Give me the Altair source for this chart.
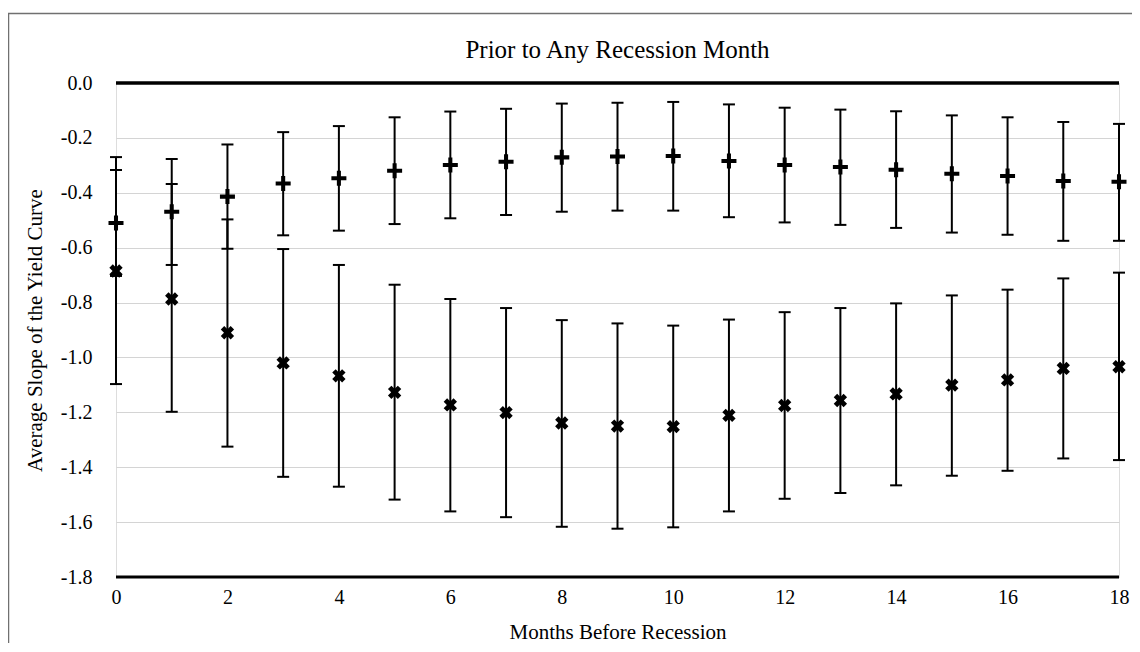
import altair as alt
import pandas as pd

months = list(range(19))

plus_mean = [-0.510, -0.469, -0.414, -0.366, -0.347, -0.320, -0.299, -0.287, -0.271, -0.268,
             -0.266, -0.284, -0.299, -0.306, -0.316, -0.331, -0.339, -0.357, -0.360]
plus_high = [-0.317, -0.277, -0.224, -0.179, -0.157, -0.125, -0.104, -0.094, -0.075, -0.072,
             -0.069, -0.078, -0.090, -0.097, -0.103, -0.118, -0.125, -0.142, -0.149]
plus_low = [-0.703, -0.663, -0.604, -0.555, -0.538, -0.514, -0.493, -0.481, -0.469, -0.465,
            -0.465, -0.489, -0.508, -0.517, -0.528, -0.545, -0.553, -0.575, -0.575]

cross_mean = [-0.685, -0.787, -0.910, -1.020, -1.067, -1.127, -1.173, -1.201, -1.239, -1.250,
              -1.252, -1.211, -1.175, -1.157, -1.133, -1.101, -1.082, -1.040, -1.034]
cross_high = [-0.270, -0.368, -0.497, -0.605, -0.663, -0.735, -0.787, -0.820, -0.864, -0.876,
              -0.884, -0.862, -0.835, -0.820, -0.803, -0.774, -0.753, -0.712, -0.691]
cross_low = [-1.097, -1.198, -1.325, -1.435, -1.471, -1.518, -1.561, -1.582, -1.617, -1.624,
             -1.619, -1.561, -1.515, -1.494, -1.466, -1.431, -1.413, -1.368, -1.374]

y_ticks = [-1.8, -1.6, -1.4, -1.2, -1.0, -0.8, -0.6, -0.4, -0.2, 0.0]
x_ticks = [0, 2, 4, 6, 8, 10, 12, 14, 16, 18]
baselines = [0.0, -1.8]
baseline_widths = [3.5, 2.8]

FONT = "Liberation Serif"
W, H = 1003, 494

plus_df = pd.DataFrame({"month": months, "mean": plus_mean, "lo": plus_low, "hi": plus_high})
cross_df = pd.DataFrame({"month": months, "mean": cross_mean, "lo": cross_low, "hi": cross_high})

xs = alt.Scale(domain=[0, 18], nice=False)
ys = alt.Scale(domain=[-1.8, 0], nice=False)

x_axis = alt.Axis(values=x_ticks, grid=False, ticks=False, domain=False, labelPadding=10,
                  labelFlush=False, format="d", title="Months Before Recession",
                  titleX=W / 2, titleY=61, titleBaseline="alphabetic")
y_axis = alt.Axis(values=y_ticks, grid=True, gridColor="#d4d4d4", gridWidth=1.2,
                  ticks=False, domain=False, labelPadding=24,
                  labelExpr="replace(format(datum.value, '.1f'), '\u2212', '-')",
                  title="Average Slope of the Yield Curve",
                  titleX=-81, titleY=H / 2, titleAlign="center", titleBaseline="middle")


def X(field):
    return alt.X(field, type="quantitative", scale=xs, axis=x_axis)


def Y(field):
    return alt.Y(field, type="quantitative", scale=ys, axis=y_axis)


border = alt.Chart(alt.Data(values=[{"a": 1}])).mark_rect(
    fill=None, stroke="#707070", strokeWidth=1.5
).encode(x=alt.value(-107.5), x2=alt.value(1100), y=alt.value(-69.5), y2=alt.value(800))

base_df = pd.DataFrame({"v": baselines, "w": baseline_widths})
base_rules = alt.Chart(base_df).mark_rule(color="black").encode(
    y=Y("v"),
    strokeWidth=alt.StrokeWidth("w:Q", scale=None, legend=None),
)

plus_path = "M-1,-0.27H-0.27V-1H0.27V-0.27H1V0.27H0.27V1H-0.27V0.27H-1Z"
x_path = "M-1,-0.35H-0.35V-1H0.35V-0.35H1V0.35H0.35V1H-0.35V0.35H-1Z"


def series(df, shape, size, angle):
    bars = alt.Chart(df).mark_rule(color="black", strokeWidth=2).encode(
        x=X("month"), y=Y("lo"), y2="hi"
    )
    cap_hi = alt.Chart(df).mark_rule(color="black", strokeWidth=2, xOffset=-6, x2Offset=6).encode(
        x=X("month"), x2="month", y=Y("hi")
    )
    cap_lo = alt.Chart(df).mark_rule(color="black", strokeWidth=2, xOffset=-6, x2Offset=6).encode(
        x=X("month"), x2="month", y=Y("lo")
    )
    pts = alt.Chart(df).mark_point(
        shape=shape, filled=True, color="black", opacity=1, size=size, angle=angle, strokeWidth=0
    ).encode(x=X("month"), y=Y("mean"))
    return [bars, cap_hi, cap_lo, pts]


layers = [border, base_rules] + series(plus_df, plus_path, 225, 0) + series(cross_df, x_path, 195, 45)

chart = alt.layer(*layers).properties(
    width=W, height=H,
    title=alt.TitleParams("Prior to Any Recession Month", frame="group", anchor="middle",
                          offset=0, baseline="alphabetic", dy=70,
                          font=FONT, fontSize=25, fontWeight="normal", color="black"),
    autosize=alt.AutoSizeParams(type="none"),
    padding={"left": 108, "top": 75, "right": 13, "bottom": 66},
).configure_view(stroke=None).configure(background="white").configure_axis(
    labelFont=FONT, labelFontSize=20, labelColor="black",
    titleFont=FONT, titleFontSize=21, titleFontWeight="normal", titleColor="black",
)

chart.save("out.html", embed_options={"renderer": "svg", "actions": False})
